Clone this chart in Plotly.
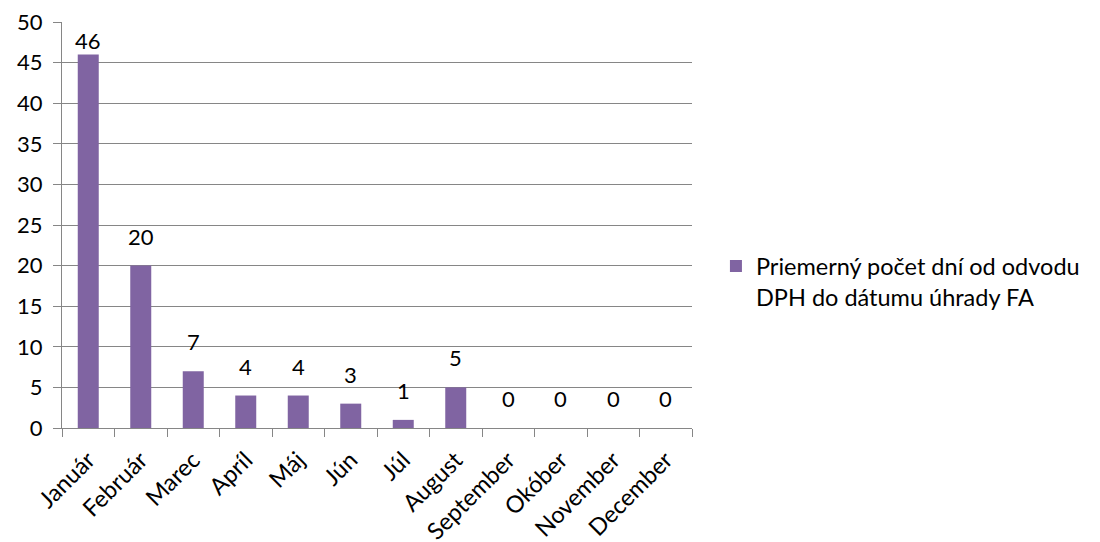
import plotly.graph_objects as go

months = ["Január", "Február", "Marec", "Apríl", "Máj", "Jún", "Júl",
          "August", "September", "Okóber", "November", "December"]
avg_days = [46, 20, 7, 4, 4, 3, 1, 5, 0, 0, 0, 0]
series_name = "Priemerný počet dní od odvodu<br>DPH do dátumu úhrady FA"
y_ticks = list(range(0, 55, 5))
y_max = 50

BAR = "#8064A2"
GRID = "#868686"
FONT = "Lato"

PLOT_H = 542 - 22 - 114
PX_PER_UNIT = PLOT_H / y_max

fig = go.Figure()
fig.add_trace(go.Bar(
    x=months, y=avg_days, name=series_name,
    marker=dict(color=BAR, line=dict(width=0)),
    width=0.4, showlegend=True,
))

# value labels above each bar, kept inside the plot area near the top
for m, v in zip(months, avg_days):
    room = (y_max - v) * PX_PER_UNIT
    gap = min(20, room - 28)
    fig.add_annotation(
        x=m, y=v, text=str(v), showarrow=False,
        yanchor="bottom", yshift=gap - 6,
        font=dict(family=FONT, size=22, color="#000000"),
    )

fig.update_layout(
    width=1100, height=542,
    margin=dict(l=62, r=408, t=22, b=114, autoexpand=False),
    paper_bgcolor="white", plot_bgcolor="white",
    font=dict(family=FONT, size=22, color="#000000"),
    showlegend=True,
    legend=dict(x=1.038, y=0.36, xanchor="left", yanchor="middle",
                valign="top",
                font=dict(family=FONT, size=23.5), bgcolor="rgba(0,0,0,0)",
                itemwidth=30, tracegroupgap=0),
    xaxis=dict(
        type="category", showgrid=False, showline=True, linecolor=GRID,
        linewidth=1, ticks="outside", tickson="boundaries", ticklen=8,
        tickcolor=GRID, tickangle=-45, tickfont=dict(family=FONT, size=23.5),
        ticklabelstandoff=8, automargin=False,
    ),
    yaxis=dict(
        range=[0, y_max], tickvals=y_ticks, showgrid=True, gridcolor=GRID,
        gridwidth=1, showline=True, linecolor=GRID, linewidth=1,
        ticks="outside", ticklen=8, tickcolor=GRID, zeroline=False,
        tickfont=dict(family=FONT, size=22), ticklabelstandoff=6,
        automargin=False,
    ),
)

fig.write_html("out.html")
